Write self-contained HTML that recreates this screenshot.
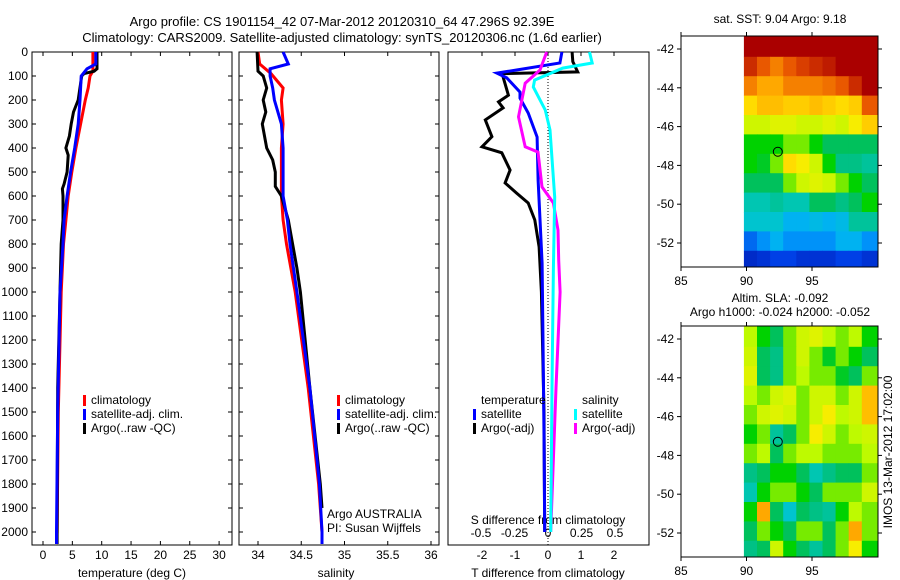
<!DOCTYPE html>
<html><head><meta charset="utf-8"><style>
html,body{margin:0;padding:0;background:#fff;}
svg{display:block;font-family:"Liberation Sans",sans-serif;}
</style></head><body>
<svg id="fig" width="900" height="580" viewBox="0 0 900 580">
<text x="342" y="26" font-size="13" text-anchor="middle">Argo profile: CS 1901154_42 07-Mar-2012 20120310_64 47.296S 92.39E</text>
<text x="342" y="42" font-size="13" text-anchor="middle">Climatology: CARS2009. Satellite-adjusted climatology: synTS_20120306.nc (1.6d earlier)</text>
</svg>
<script>
// ---------- data ----------
const depthTicks=[0,100,200,300,400,500,600,700,800,900,1000,1100,1200,1300,1400,1500,1600,1700,1800,1900,2000];
const tempTicks=[0,5,10,15,20,25,30];
const salTicks=[34,34.5,35,35.5,36];
const tdiffTicks=[-2,-1,0,1,2];
const sdiffTicks=[-0.5,-0.25,0,0.25,0.5];
const sdiffTickLabels=["-0.5","-0.25","0","0.25","0.5"];

const tClimDepth=[0,80,100,150,200,300,400,500,600,700,800,1000,1500,2000,2050];
const tClimVal=[8.5,8.5,8.0,7.7,7.2,6.4,5.6,4.9,4.3,3.9,3.5,3.1,2.6,2.4,2.3];
const tSatDepth=[0,50,70,100,200,300,400,500,600,700,800,1000,1500,2000,2050];
const tSatVal=[9.0,9.0,7.5,6.5,6.3,6.0,5.4,4.7,4.1,3.6,3.4,2.9,2.5,2.3,2.3];
const tArgoDepth=[0,70,80,90,100,200,250,300,350,400,430,500,550,570,600,700,800,1000,1400,2000,2050];
const tArgoVal=[9.2,9.2,8.7,7.0,6.6,6.0,5.2,4.8,4.5,3.9,4.3,4.1,3.6,3.3,3.4,3.4,3.1,2.9,2.5,2.4,2.4];

const sClimDepth=[0,50,90,150,200,300,400,600,700,800,1000,1400,1800,2000,2050];
const sClimVal=[34.0,34.02,34.15,34.29,34.27,34.29,34.27,34.27,34.29,34.33,34.43,34.58,34.7,34.74,34.74];
const sSatDepth=[0,50,70,100,150,200,300,400,600,700,800,1000,1400,1800,2000,2050];
const sSatVal=[34.29,34.35,34.14,34.14,34.17,34.19,34.27,34.29,34.29,34.34,34.37,34.45,34.6,34.71,34.74,34.74];
const sArgoDepth=[0,80,100,150,200,250,300,400,450,500,560,600,700,800,900,1000,1400,1800,1900];
const sArgoVal=[33.99,34.0,34.06,34.1,34.06,34.09,34.05,34.1,34.17,34.2,34.2,34.27,34.35,34.4,34.45,34.49,34.6,34.72,34.74];

const dTArgoDepth=[0,40,83,90,104,180,208,233,283,353,395,420,492,546,588,629,700,812,1000,1500,2000];
const dTArgoVal=[0.73,0.75,0.9,-1.36,-1.36,-1.2,-1.5,-1.36,-1.9,-1.7,-2.0,-1.4,-1.15,-1.3,-0.95,-0.6,-0.4,-0.27,-0.2,-0.12,-0.1];
const dTSatDepth=[0,46,75,88,108,167,192,254,354,533,880,1200,1600,2000];
const dTSatVal=[0.42,0.36,-0.95,-1.55,-1.25,-0.85,-0.85,-0.6,-0.33,-0.3,-0.18,-0.15,-0.12,-0.1];
const dSArgoDepth=[0,75,130,270,395,417,562,629,742,867,1000,1400,2000];
const dSArgoVal=[-0.01,-0.06,-0.17,-0.22,-0.17,-0.075,-0.045,0.04,0.075,0.08,0.09,0.06,0.02];
const dSSatDepth=[0,46,67,117,146,242,325,604,900,1400,2000];
const dSSatVal=[0.31,0.33,0.11,-0.1,-0.11,-0.02,0.015,0.05,0.04,0.03,0.02];

const mapLons=[90,91,92,93,94,95,96,97,98,99];
const mapLats=[-41.4,-42.4,-43.4,-44.4,-45.4,-46.4,-47.4,-48.4,-49.4,-50.4,-51.4,-52.4];
const sstGrid=[
[0.95,0.95,0.95,0.95,0.95,0.95,0.95,0.95,0.95,0.95],
[0.9,0.85,0.8,0.85,0.88,0.9,0.92,0.95,0.95,0.95],
[0.8,0.75,0.75,0.8,0.8,0.8,0.82,0.85,0.9,0.95],
[0.68,0.72,0.72,0.7,0.7,0.72,0.7,0.68,0.7,0.85],
[0.6,0.6,0.62,0.62,0.6,0.6,0.62,0.6,0.65,0.7],
[0.5,0.5,0.5,0.55,0.55,0.5,0.45,0.45,0.45,0.45],
[0.5,0.48,0.55,0.68,0.65,0.6,0.5,0.42,0.42,0.4],
[0.45,0.45,0.45,0.55,0.6,0.62,0.6,0.55,0.5,0.45],
[0.38,0.38,0.4,0.38,0.38,0.45,0.45,0.42,0.45,0.5],
[0.35,0.35,0.35,0.3,0.3,0.32,0.3,0.32,0.4,0.4],
[0.2,0.25,0.3,0.25,0.25,0.25,0.25,0.3,0.3,0.25],
[0.1,0.12,0.15,0.15,0.12,0.12,0.12,0.15,0.15,0.12]];
const slaGrid=[
[0.58,0.5,0.45,0.55,0.6,0.62,0.58,0.55,0.58,0.5],
[0.6,0.45,0.42,0.55,0.6,0.55,0.48,0.55,0.5,0.45],
[0.62,0.45,0.42,0.55,0.58,0.55,0.55,0.48,0.45,0.55],
[0.58,0.55,0.6,0.62,0.55,0.6,0.6,0.55,0.6,0.72],
[0.55,0.6,0.62,0.6,0.55,0.6,0.65,0.58,0.6,0.72],
[0.5,0.55,0.4,0.45,0.55,0.65,0.6,0.55,0.58,0.6],
[0.55,0.58,0.45,0.55,0.58,0.58,0.55,0.55,0.55,0.58],
[0.42,0.45,0.5,0.5,0.45,0.38,0.42,0.45,0.45,0.55],
[0.38,0.5,0.55,0.55,0.5,0.45,0.55,0.55,0.55,0.6],
[0.5,0.75,0.45,0.35,0.45,0.42,0.4,0.5,0.58,0.55],
[0.45,0.55,0.5,0.45,0.55,0.55,0.45,0.55,0.75,0.55],
[0.42,0.45,0.6,0.5,0.45,0.4,0.45,0.55,0.65,0.5]];
const lonTicks=[85,90,95];
const latTicks=[-42,-44,-46,-48,-50,-52];
const argoLon=92.39, argoLat=-47.296;

// ---------- helpers ----------
const svg=document.getElementById('fig');
const NS='http://www.w3.org/2000/svg';
function mk(tag,attrs,parent){const e=document.createElementNS(NS,tag);for(const k in attrs)e.setAttribute(k,attrs[k]);(parent||svg).appendChild(e);return e;}
function txt(x,y,s,size,anchor,parent){const t=mk('text',{x:x,y:y,'font-size':size||12,'text-anchor':anchor||'middle'},parent);t.textContent=s;return t;}
const yD=d=>52+d*0.24;
const xT=v=>43+v*5.87;
const xS=v=>258+(v-34)*86.5;
const xdT=v=>548+v*33;
const xdS=v=>548+v*134;

function frame(x0,x1,name){
  const g=mk('g',{});
  
  
  mk('rect',{x:x0,y:52,width:x1-x0,height:493,fill:'none',stroke:'#000','stroke-width':1},g);
  return g;
}
function line(xs,ds,xf,color,g,name){
  const pts=xs.map((v,i)=>xf(v).toFixed(1)+','+yD(ds[i]).toFixed(1)).join(' ');
  const p=mk('polyline',{points:pts,fill:'none',stroke:color,'stroke-width':3,'stroke-linejoin':'miter'},g);
  
  
}
function depthTickMarks(x0,x1,g,labels){
  depthTicks.forEach(d=>{const y=yD(d);
    mk('line',{x1:x0,y1:y,x2:x0+4,y2:y,stroke:'#000'},g);
    mk('line',{x1:x1,y1:y,x2:x1-4,y2:y,stroke:'#000'},g);
    if(labels){const t=txt(28,y+4,String(d),12,'end',g);
      
      }
  });
}
function legendEntry(x,y,color,label,g){
  mk('rect',{x:x,y:y-9,width:3,height:11,fill:color},g);
  const t=txt(x+8,y,label,12,'start',g);
  
  
}

// ---------- panel 1 temperature ----------
const g1=frame(32,232,'temperature-panel');
depthTickMarks(32,232,g1,true);
tempTicks.forEach(v=>{const x=xT(v);
  mk('line',{x1:x,y1:52,x2:x,y2:56,stroke:'#000'},g1);
  mk('line',{x1:x,y1:545,x2:x,y2:541,stroke:'#000'},g1);
  txt(x,559,String(v),12,'middle',g1);});
const xl1=txt(132,577,'temperature (deg C)',12,'middle',g1);


line(tClimVal,tClimDepth,xT,'#f00',g1,'temperature-climatology');
line(tArgoVal,tArgoDepth,xT,'#000',g1,'temperature-argo');
line(tSatVal,tSatDepth,xT,'#00f',g1,'temperature-satellite');
legendEntry(83,404,'#f00','climatology',g1);
legendEntry(83,418,'#00f','satellite-adj. clim.',g1);
legendEntry(83,432,'#000','Argo(..raw -QC)',g1);

// ---------- panel 2 salinity ----------
const g2=frame(239,439,'salinity-panel');
depthTickMarks(239,439,g2,false);
salTicks.forEach(v=>{const x=xS(v);
  mk('line',{x1:x,y1:52,x2:x,y2:56,stroke:'#000'},g2);
  mk('line',{x1:x,y1:545,x2:x,y2:541,stroke:'#000'},g2);
  txt(x,559,String(v),12,'middle',g2);});
const xl2=txt(336,577,'salinity',12,'middle',g2);


line(sClimVal,sClimDepth,xS,'#f00',g2,'salinity-climatology');
line(sArgoVal,sArgoDepth,xS,'#000',g2,'salinity-argo');
line(sSatVal,sSatDepth,xS,'#00f',g2,'salinity-satellite');
legendEntry(337,404,'#f00','climatology',g2);
legendEntry(337,418,'#00f','satellite-adj. clim.',g2);
legendEntry(337,432,'#000','Argo(..raw -QC)',g2);
txt(327,518,'Argo AUSTRALIA',12,'start',g2);
txt(327,532,'PI: Susan Wijffels',12,'start',g2);

// ---------- panel 3 differences ----------
const g3=frame(448,649,'difference-panel');
[-2,-1,0,1,2].forEach(v=>{const x=xdT(v);
  mk('line',{x1:x,y1:52,x2:x,y2:56,stroke:'#000'},g3);});
mk('line',{x1:548,y1:52,x2:548,y2:545,stroke:'#000','stroke-dasharray':'1,2'},g3);
tdiffTicks.forEach(v=>txt(xdT(v),559,String(v),12,'middle',g3));
sdiffTicks.forEach((v,i)=>txt(xdS(v),537,sdiffTickLabels[i],12,'middle',g3));
txt(548,524,'S difference from climatology',12,'middle',g3);
const xl3=txt(548,577,'T difference from climatology',12,'middle',g3);


line(dTArgoVal,dTArgoDepth,xdT,'#000',g3,'t-diff-argo');
line(dTSatVal,dTSatDepth,xdT,'#00f',g3,'t-diff-satellite');
line(dSArgoVal,dSArgoDepth,xdS,'#f0f',g3,'s-diff-argo');
line(dSSatVal,dSSatDepth,xdS,'#0ff',g3,'s-diff-satellite');
txt(481,404,'temperature',12,'start',g3);
legendEntry(473,418,'#00f','satellite',g3);
legendEntry(473,432,'#000','Argo(-adj)',g3);
txt(582,404,'salinity',12,'start',g3);
legendEntry(574,418,'#0ff','satellite',g3);
legendEntry(574,432,'#f0f','Argo(-adj)',g3);

// ---------- maps ----------
const cStops=[[0,[0,0,140]],[0.15,[0,64,230]],[0.28,[0,170,255]],[0.36,[0,200,200]],[0.44,[0,190,110]],[0.5,[0,210,0]],[0.58,[190,250,0]],[0.66,[255,235,0]],[0.76,[255,160,0]],[0.86,[230,80,0]],[0.95,[170,0,0]],[1,[160,0,0]]];
function cmap(v){
  for(let i=1;i<cStops.length;i++){
    if(v<=cStops[i][0]){const a=cStops[i-1],b=cStops[i];const f=(v-a[0])/(b[0]-a[0]);
      return 'rgb('+a[1].map((c,k)=>Math.round(c+(b[1][k]-c)*f)).join(',')+')';}
  }
  return 'rgb(160,0,0)';
}
function drawMap(top,bottom,grid,name){
  const g=mk('g',{});
  
  
  const xL=v=>681+(v-85)*13.1;
  const yL=v=>top+13+(-42-v)*19.4;
  grid.forEach((row,i)=>row.forEach((val,j)=>{
    const x0=xL(mapLons[j]-0.2), x1=(j==row.length-1)?878:xL(mapLons[j]+0.8);
    const y0=(i==0)?top:yL(mapLats[i]), y1=(i==grid.length-1)?bottom:yL(mapLats[i+1]);
    const c=mk('rect',{x:x0.toFixed(1),y:y0.toFixed(1),width:(x1-x0+0.5).toFixed(1),height:(y1-y0+0.5).toFixed(1),fill:cmap(val)},g);
    
    
  }));
  mk('rect',{x:681,y:top,width:197,height:bottom-top,fill:'none',stroke:'#000'},g);
  lonTicks.forEach(v=>{const x=xL(v);
    mk('line',{x1:x,y1:top,x2:x,y2:top-4,stroke:'#000'},g);
    mk('line',{x1:x,y1:bottom,x2:x,y2:bottom+4,stroke:'#000'},g);
    txt(x,bottom+18,String(v),12,'middle',g);});
  latTicks.forEach(v=>{const y=yL(v);
    mk('line',{x1:681,y1:y,x2:677,y2:y,stroke:'#000'},g);
    mk('line',{x1:878,y1:y,x2:882,y2:y,stroke:'#000'},g);
    txt(674,y+4,String(v),12,'end',g);});
  const c=mk('circle',{cx:xL(argoLon),cy:yL(argoLat),r:4.5,fill:'none',stroke:'#000','stroke-width':1},g);
  
  
}
drawMap(36,267,sstGrid,'sst-map');
drawMap(326,557,slaGrid,'sla-map');
txt(780,23,'sat. SST: 9.04  Argo: 9.18',12,'middle');
txt(780,302,'Altim. SLA: -0.092',12,'middle');
txt(780,316,'Argo h1000: -0.024 h2000: -0.052',12,'middle');
const v=txt(0,0,'IMOS 13-Mar-2012 17:02:00',12,'middle');
v.setAttribute('transform','translate(892,452) rotate(-90)');


</script>
</body></html>
